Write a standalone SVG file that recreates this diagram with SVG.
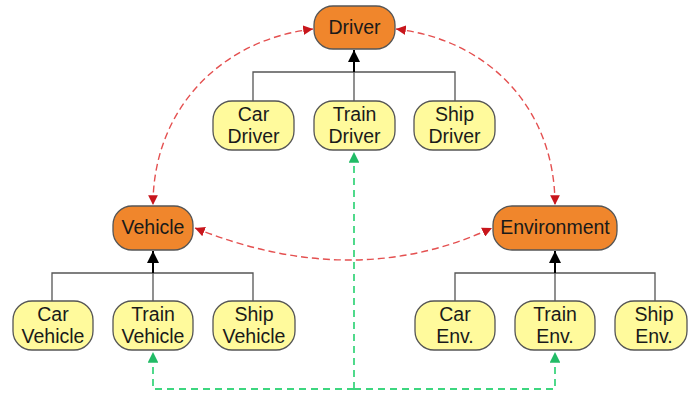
<svg xmlns="http://www.w3.org/2000/svg" width="689" height="394" viewBox="0 0 689 394">
<defs>
<style>
.p{fill:#F0862C;stroke:#555;stroke-width:1.3}
.c{fill:#FFFA9C;stroke:#555;stroke-width:1.3}
text{font-family:"Liberation Sans",Arial,sans-serif;font-size:19.5px;fill:#1a1a1a;text-anchor:middle}
.tree{fill:none;stroke:#555;stroke-width:1.3}
.up{fill:none;stroke:#000;stroke-width:2}
.red{fill:none;stroke:#E45050;stroke-width:1.4;stroke-dasharray:7,4}
.grn{fill:none;stroke:#3DD67F;stroke-width:1.8;stroke-dasharray:7,5}
</style>
<marker id="ak" viewBox="0 0 10 10" refX="10" refY="5" markerWidth="6" markerHeight="6" orient="auto"><path d="M0,0L10,5L0,10z" fill="#000"/></marker>
<marker id="ar" viewBox="0 0 10 10" refX="10" refY="5" markerWidth="7" markerHeight="7" orient="auto-start-reverse"><path d="M0,0L10,5L0,10z" fill="#C8161C"/></marker>
<marker id="ag" viewBox="0 0 10 10" refX="10" refY="5" markerWidth="6" markerHeight="6" orient="auto"><path d="M0,0L10,5L0,10z" fill="#22BB66"/></marker>
</defs>
<g id="connectors">
<path class="tree" d="M253,101V72H455V101M354,101V72"/>
<path class="up" d="M354,72V50" marker-end="url(#ak)"/>
<path class="tree" d="M52,301V273H253V301M153,301V273"/>
<path class="up" d="M153,273V251" marker-end="url(#ak)"/>
<path class="tree" d="M455,301V273H655V301M555,301V273"/>
<path class="up" d="M555,273V251" marker-end="url(#ak)"/>
<path class="red" d="M313,29C220,40 153,110 153,205" marker-start="url(#ar)" marker-end="url(#ar)"/>
<path class="red" d="M396,29C490,40 555,110 555,205" marker-start="url(#ar)" marker-end="url(#ar)"/>
<path class="red" d="M195,228Q354,292 492,228" marker-start="url(#ar)" marker-end="url(#ar)"/>
<path class="grn" d="M354,389H153V352" marker-end="url(#ag)"/>
<path class="grn" d="M354,389H555V352" marker-end="url(#ag)"/>
<path class="grn" d="M354,389V152" marker-end="url(#ag)"/>
</g>
<g id="driver"><rect class="p" x="314" y="6" width="81" height="43" rx="19"/><text x="354.5" y="34">Driver</text></g>
<g id="car-driver"><rect class="c" x="213" y="101" width="81" height="49" rx="19"/><text x="253.5" y="121">Car</text><text x="253.5" y="143">Driver</text></g>
<g id="train-driver"><rect class="c" x="314" y="101" width="81" height="49" rx="19"/><text x="354.5" y="121">Train</text><text x="354.5" y="143">Driver</text></g>
<g id="ship-driver"><rect class="c" x="414" y="101" width="81" height="49" rx="19"/><text x="454.5" y="121">Ship</text><text x="454.5" y="143">Driver</text></g>
<g id="vehicle"><rect class="p" x="113" y="206" width="80" height="44" rx="19"/><text x="153" y="234">Vehicle</text></g>
<g id="environment"><rect class="p" x="493" y="206" width="124" height="44" rx="19"/><text x="555" y="234">Environment</text></g>
<g id="car-vehicle"><rect class="c" x="13" y="301" width="80" height="49" rx="19"/><text x="53" y="321">Car</text><text x="53" y="343">Vehicle</text></g>
<g id="train-vehicle"><rect class="c" x="113" y="301" width="80" height="49" rx="19"/><text x="153" y="321">Train</text><text x="153" y="343">Vehicle</text></g>
<g id="ship-vehicle"><rect class="c" x="213" y="301" width="82" height="49" rx="19"/><text x="254" y="321">Ship</text><text x="254" y="343">Vehicle</text></g>
<g id="car-env"><rect class="c" x="415" y="301" width="80" height="49" rx="19"/><text x="455" y="321">Car</text><text x="455" y="343">Env.</text></g>
<g id="train-env"><rect class="c" x="515" y="301" width="80" height="49" rx="19"/><text x="555" y="321">Train</text><text x="555" y="343">Env.</text></g>
<g id="ship-env"><rect class="c" x="615" y="301" width="72" height="49" rx="19"/><text x="654" y="321">Ship</text><text x="654" y="343">Env.</text></g>
</svg>
